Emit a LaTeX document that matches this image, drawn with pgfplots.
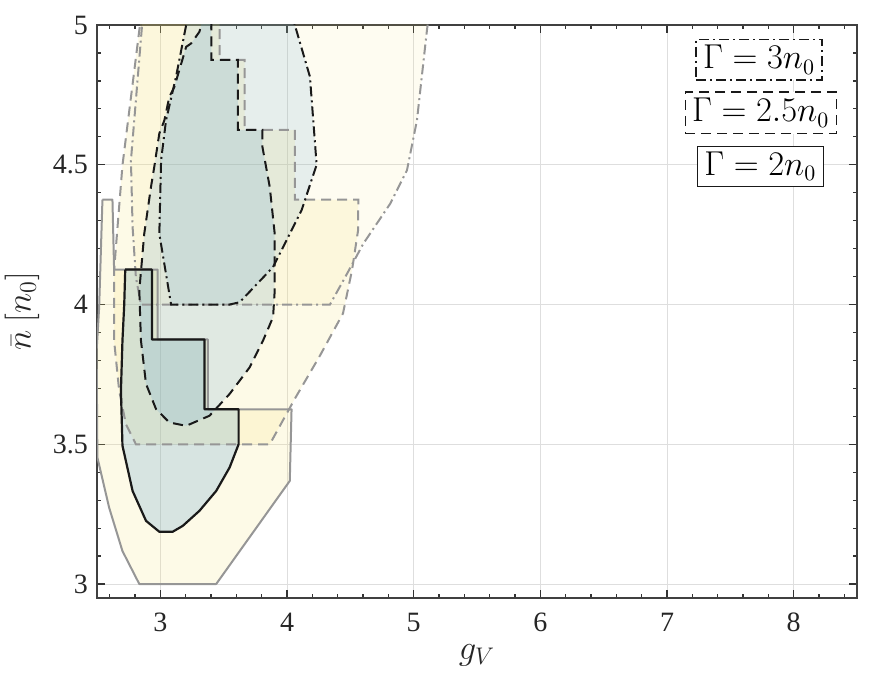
\documentclass[border=0pt]{standalone}
\usepackage{fontspec}
\setmainfont{Liberation Serif}
\newfontfamily\tickfont{Liberation Serif}
\usepackage{pgfplots}
\usepackage{pgfplotstable}
\pgfplotsset{compat=1.18}

\definecolor{yel}{RGB}{245,225,120}
\definecolor{tea}{RGB}{95,160,205}
\definecolor{cgray}{RGB}{150,150,150}
\definecolor{cblack}{RGB}{25,25,25}

% Gamma = 2 n0 : outer (95%) and inner (68%) contours
\pgfplotstableread{
x y
2.543 4.375
2.622 4.375
2.635 4.125
2.979 4.125
2.979 3.875
3.375 3.875
3.375 3.625
4.036 3.625
4.022 3.369
3.441 3.0
2.834 3.0
2.701 3.118
2.596 3.273
2.503 3.453
2.497 3.835
2.517 3.99
2.543 4.375
}\solidOuter

\pgfplotstableread{
x y
2.723 4.125
2.934 4.125
2.934 3.875
3.349 3.875
3.349 3.625
3.618 3.625
3.618 3.5
3.547 3.417
3.441 3.333
3.309 3.262
3.177 3.208
3.097 3.187
2.992 3.187
2.887 3.226
2.781 3.333
2.701 3.495
2.689 3.692
2.701 3.871
2.715 4.0
2.723 4.125
}\solidInner

% Gamma = 2.5 n0
\pgfplotstableread{
x y
2.853 5.05
3.468 5.05
3.468 4.875
3.666 4.875
3.666 4.625
4.062 4.625
4.062 4.375
4.563 4.375
4.561 4.265
4.513 4.122
4.442 3.968
4.260 3.817
4.062 3.663
3.864 3.5
2.807 3.5
2.728 3.572
2.675 3.692
2.635 3.871
2.635 3.99
2.635 4.122
2.662 4.277
2.701 4.498
2.853 5.05
}\dashedOuter

\pgfplotstableread{
x y
3.35 5.05
3.402 5.05
3.402 4.875
3.613 4.875
3.613 4.625
3.806 4.625
3.806 4.564
3.864 4.420
3.903 4.253
3.903 4.134
3.903 4.050
3.890 3.955
3.811 3.871
3.705 3.775
3.547 3.680
3.388 3.602
3.204 3.566
3.071 3.578
2.966 3.626
2.887 3.716
2.847 3.871
2.834 4.050
2.873 4.253
2.926 4.420
2.952 4.492
2.992 4.612
3.032 4.659
3.071 4.743
3.111 4.779
3.204 4.922
3.243 4.934
3.309 4.976
3.35 5.05
}\dashedInner

% Gamma = 3 n0
\pgfplotstableread{
x y
2.865 5.05
5.125 5.05
5.105 4.982
5.026 4.659
4.947 4.480
4.815 4.361
4.603 4.218
4.445 4.086
4.339 4.0
2.847 4.0
2.807 4.098
2.781 4.277
2.768 4.516
2.865 5.05
}\dashdotOuter

\pgfplotstableread{
x y
3.226 5.05
4.030 5.05
4.062 5.0
4.181 4.815
4.234 4.50
4.115 4.337
3.890 4.134
3.626 4.008
3.547 4.0
3.085 4.0
2.992 4.253
3.006 4.516
3.045 4.659
3.124 4.815
3.204 5.0
3.226 5.05
}\dashdotInner

\begin{document}
\begin{tikzpicture}
\begin{axis}[
  name=ax,
  scale only axis,
  width=380pt, height=286.5pt,
  xmin=2.5, xmax=8.5, ymin=2.95, ymax=5,
  xtick={3,4,...,8}, ytick={3,3.5,4,4.5,5},
  minor xtick={2.6,2.8,...,8.4},
  minor ytick={3,3.1,...,4.95},
  grid=major,
  major grid style={black!13, line width=0.5pt},
  axis line style={black!75, line width=0.8pt},
  tick style={black!80, line width=0.6pt},
  major tick length=4pt, minor tick length=2.2pt,
  tick align=inside,
  no markers,
  /pgf/number format/assume math mode=true,
  ticklabel style={font=\tickfont\fontsize{14}{15}\selectfont, text=black!85},
  xticklabel style={yshift=-4pt},
  yticklabel style={xshift=-1pt},
  xlabel={$g_V$},
  ylabel={$\bar n\ [n_0]$},
  xlabel style={at={(axis description cs:0.5,-0.0995)}, anchor=center, font=\fontsize{17}{19}\selectfont, text=black!85},
  ylabel style={at={(axis description cs:-0.0987,0.5)}, anchor=center, font=\fontsize{17}{19}\selectfont, text=black!85},
]
% density shading (approximate)
\addplot[draw=none, fill=yel, fill opacity=0.10] table {\dashdotOuter};
\addplot[draw=none, fill=yel, fill opacity=0.18] table {\dashedOuter};
\addplot[draw=none, fill=yel, fill opacity=0.18] table {\solidOuter};
\addplot[draw=none, fill=tea, fill opacity=0.15] table {\dashdotInner};
\addplot[draw=none, fill=tea, fill opacity=0.18] table {\dashedInner};
\addplot[draw=none, fill=tea, fill opacity=0.24] table {\solidInner};
% outer contours
\addplot[cgray, line width=1pt, dash pattern=on 5pt off 2pt on 1pt off 2pt] table {\dashdotOuter};
\addplot[cgray, line width=1pt, dash pattern=on 5pt off 3pt] table {\dashedOuter};
\addplot[cgray, line width=1pt, line join=round] table {\solidOuter};
% inner contours
\addplot[cblack, line width=1pt, dash pattern=on 5pt off 2pt on 1pt off 2pt] table {\dashdotInner};
\addplot[cblack, line width=1pt, dash pattern=on 5pt off 3pt] table {\dashedInner};
\addplot[cblack, line width=1.1pt, line join=round] table {\solidInner};
% legend boxes
\node[draw=cblack, line width=0.6pt, dash pattern=on 5pt off 2pt on 1pt off 2pt, fill=white, font=\fontsize{16}{18}\selectfont, inner xsep=3.5pt, inner ysep=0pt, minimum height=20.3pt] at (axis cs:7.727,4.876) {$\Gamma = 3n_0$};
\node[draw=cblack, line width=0.6pt, dash pattern=on 5pt off 3pt, fill=white, font=\fontsize{16}{18}\selectfont, inner xsep=3.5pt, inner ysep=0pt, minimum height=20.8pt] at (axis cs:7.740,4.686) {$\Gamma = 2.5n_0$};
\node[draw=cblack, line width=0.6pt, fill=white, font=\fontsize{16}{18}\selectfont, inner xsep=3.5pt, inner ysep=0pt, minimum height=20.3pt] at (axis cs:7.737,4.494) {$\Gamma = 2n_0$};
\end{axis}
\pgfresetboundingbox
\path[use as bounding box] ([shift={(-48.5pt,-41pt)}]ax.south west) rectangle ([shift={(10.5pt,12.5pt)}]ax.north east);
\end{tikzpicture}
\end{document}
